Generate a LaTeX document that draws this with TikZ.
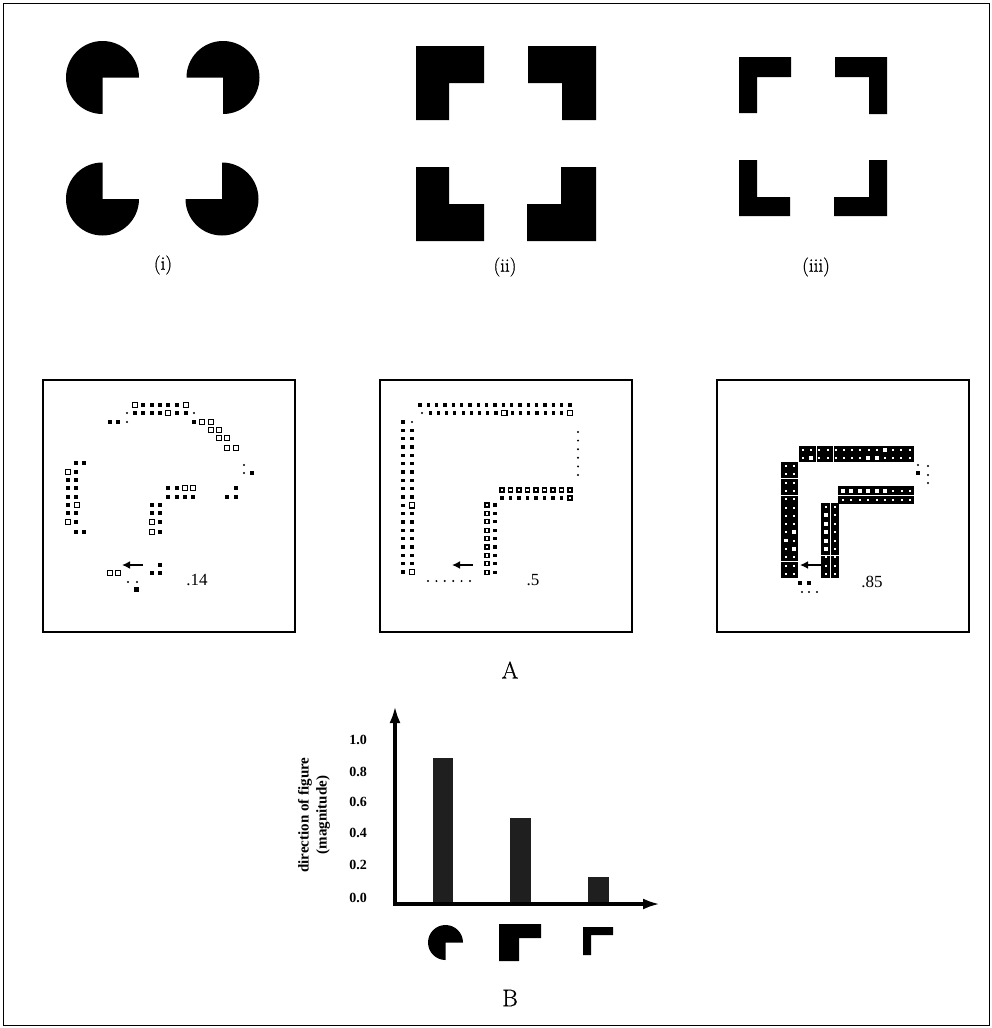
\documentclass[tikz,border=0pt]{standalone}
\usepackage{fontspec}
\newfontfamily\tms{Liberation Serif}
\newfontfamily\lmfat[FakeBold=0.7]{Latin Modern Roman}
\usetikzlibrary{arrows.meta}

% marks of the activity maps
\newcommand{\bxdot}[2]{\fill (#1-1.6,#2-1.6) rectangle (#1+1.6,#2+1.6);}
\newcommand{\bxpt}[2]{\fill (#1,#2) circle[radius=1.1];}
\newcommand{\bxsq}[2]{\filldraw[fill=white,line width=1.5pt] (#1-2.7,#2-2.7) rectangle (#1+2.7,#2+2.7);}
\newcommand{\bxsm}[2]{\filldraw[fill=white,line width=1.2pt] (#1-2,#2-2) rectangle (#1+2,#2+2);}
\newcommand{\bxhole}[3]{\fill[white] (#1-#3,#2-#3) rectangle (#1+#3,#2+#3);}

\begin{document}
\begin{tikzpicture}[x=1pt,y=-1pt,
  lbl/.style={font=\lmfat\fontsize{19}{22}\selectfont,inner sep=0pt},
  big/.style={font=\lmfat\fontsize{24}{28}\selectfont,inner sep=0pt},
  val/.style={font=\tms\fontsize{17}{20}\selectfont,inner sep=0pt},
  ticklbl/.style={font=\tms\bfseries\fontsize{14}{16}\selectfont,inner sep=0pt},
  panel/.style={line width=1.5pt},
  arr/.style={line width=2.6pt,-{Latex[length=8pt,width=8pt]}},
  axis/.style={line width=3.5pt,{Latex[length=17pt,width=11pt]}-{Latex[length=17pt,width=11pt]}}]
\useasboundingbox (0,0) rectangle (992,1028);
\draw[line width=1pt] (3,3) rectangle (989,1025);

% (i) pacmen
\fill (102.5,77.5) -- ++(0,36.5) arc[start angle=90,end angle=360,radius=36.5] -- cycle;
\fill (223,77.5) -- ++(-36.5,0) arc[start angle=180,end angle=450,radius=36.5] -- cycle;
\fill (102.5,199) -- ++(36.5,0) arc[start angle=0,end angle=270,radius=36.5] -- cycle;
\fill (222,199) -- ++(0,-36.5) arc[start angle=270,end angle=540,radius=36.5] -- cycle;
\node[lbl] (lbli) at (163,265) {(i)};

% (ii) thick corners
\fill (416,46) -- (484,46) -- (484,83) -- (449,83) -- (449,120) -- (416,120) -- cycle;
\fill (528,46) -- (596,46) -- (596,120) -- (562,120) -- (562,83) -- (528,83) -- cycle;
\fill (416,167) -- (449,167) -- (449,204) -- (484,204) -- (484,241) -- (416,241) -- cycle;
\fill (561,167) -- (596,167) -- (596,241) -- (527,241) -- (527,204) -- (561,204) -- cycle;
\node[lbl] (lblii) at (505,267) {(ii)};

% (iii) thin corners
\fill (739,57) -- (791,57) -- (791,77) -- (757,77) -- (757,113) -- (739,113) -- cycle;
\fill (835,57) -- (887,57) -- (887,114) -- (869,114) -- (869,77) -- (835,77) -- cycle;
\fill (739,160) -- (757,160) -- (757,197) -- (790,197) -- (790,216) -- (739,216) -- cycle;
\fill (869,160) -- (887,160) -- (887,216) -- (834,216) -- (834,197) -- (869,197) -- cycle;
\node[lbl] (lbliii) at (816,267) {(iii)};

% A: three maps
\draw[panel] (43,380) rectangle (295,632);
\draw[panel] (380,380) rectangle (632,632);
\draw[panel] (717,380) rectangle (969,632);

% map 1
\bxsq{135}{405} \foreach \x in {143,152,160,168,177} {\bxdot{\x}{405}} \bxsq{186}{405}
\bxpt{127}{413} \foreach \x in {135,143,152,160,177,186} {\bxdot{\x}{413}} \bxsq{168}{413} \bxpt{194}{413}
\bxdot{110}{422} \bxdot{118}{422} \bxpt{127}{422} \bxdot{194}{422} \bxsq{202}{422} \bxsq{211}{422}
\bxsq{211}{430} \bxsq{219}{430}
\bxsq{219}{438} \bxsq{227}{438}
\bxsq{227}{448} \bxsq{236}{448}
\bxpt{244}{465} \bxpt{244}{473} \bxdot{252}{473}
\bxdot{76}{463} \bxdot{84}{463}
\foreach \y in {480,488,497,513} {\bxdot{68}{\y} \bxdot{76}{\y}}
\bxsq{68}{472} \bxdot{76}{472}
\bxdot{68}{505} \bxsq{77}{505}
\bxsq{68}{522} \bxdot{76}{522}
\bxdot{76}{532} \bxdot{84}{532}
\bxdot{168}{488} \bxdot{177}{488} \bxsq{185}{488} \bxsq{193}{488}
\foreach \x in {168,177,185,193} {\bxdot{\x}{497}}
\foreach \y in {505,513,522,532} {\bxdot{152}{\y} \bxdot{160}{\y}}
\bxsq{152}{522} \bxsq{152}{532}
\bxdot{236}{488} \bxdot{227}{497} \bxdot{236}{497}
\bxsq{110}{573} \bxsq{118}{573}
\bxdot{160}{565} \bxdot{152}{573} \bxdot{160}{573}
\bxpt{128}{582} \bxpt{137}{582} \fill (134,587) rectangle (138.5,591.5);
\coordinate (m1a) at (143,565);
\coordinate (m1b) at (122,565);
\draw[arr] (m1a) -- (m1b);
\node[val] (v1) at (197,580) {.14};

% map 2
\foreach \k in {0,...,18} {\bxdot{420+8.33*\k}{405}}
\bxpt{422}{413}
\foreach \k in {1,...,18} {\bxdot{422+8.22*\k}{413}}
\bxsq{504.2}{413} \bxsq{570}{413}
\bxdot{403}{422} \bxpt{412}{422}
\foreach \k in {1,...,18} {\bxdot{403}{422+8.33*\k} \bxdot{412}{422+8.33*\k}}
\bxsq{412}{505.3} \bxsq{412}{572}
\foreach \k in {0,...,5} {\bxpt{578}{432+8.6*\k}}
\foreach \k in {0,...,8} {\bxsm{502+8.5*\k}{490} \bxdot{502+8.5*\k}{498}}
\bxsm{570}{498}
\foreach \k in {0,...,8} {\bxsm{487}{505+8.4*\k} \bxdot{495}{505+8.4*\k}}
\foreach \k in {0,...,5} {\bxpt{428+8.4*\k}{581}}
\coordinate (m2a) at (473,565);
\coordinate (m2b) at (452,565);
\draw[arr] (m2a) -- (m2b);
\node[val] (v2) at (533,580) {.5};

% map 3
\fill (799,446) rectangle (914,462);
\foreach \k in {0,...,13} {\bxhole{803+8.2*\k}{450}{1} \bxhole{803+8.2*\k}{458}{1}}
\bxhole{868}{458}{2} \bxhole{877}{458}{2} \bxhole{885}{450}{1.6} \bxhole{811}{458}{1.6}
\fill[white] (815.5,446) rectangle (816.5,462);
\fill[white] (832.5,446) rectangle (833.5,462);
\fill (781,462) rectangle (798,578);
\foreach \k in {0,...,13} {\bxhole{786}{466+8.3*\k}{1} \bxhole{793.5}{466+8.3*\k}{1}}
\bxhole{793.5}{532.4}{2} \bxhole{793.5}{549}{2} \bxhole{786}{540.7}{1.6}
\fill[white] (781,477.5) rectangle (798,478.5);
\fill[white] (781,494.5) rectangle (798,495.5);
\fill[white] (781,560.5) rectangle (798,561.5);
\fill (838,486) rectangle (914,504);
\fill[white] (838,494.6) rectangle (914,495.4);
\foreach \k in {0,...,8} {\bxhole{843+8.4*\k}{499.5}{1}}
\foreach \k in {0,...,5} {\bxhole{843+8.4*\k}{490.5}{2}}
\foreach \k in {6,...,8} {\bxhole{843+8.4*\k}{490.5}{1}}
\fill (821,503) rectangle (839,578);
\fill[white] (829.6,503) rectangle (830.4,578);
\foreach \k in {0,...,8} {\bxhole{834.5}{507+8.4*\k}{1}}
\foreach \k in {1,...,5} {\bxhole{825.5}{507+8.4*\k}{2}}
\foreach \k in {0,6,7,8} {\bxhole{825.5}{507+8.4*\k}{1}}
\fill[white] (821,554.5) rectangle (839,555.5);
\bxpt{918}{465} \bxpt{928}{466} \bxdot{918}{473} \bxpt{928}{475} \bxpt{928}{483}
\bxdot{800}{583} \bxdot{809}{583}
\bxpt{802}{592} \bxpt{809}{592} \bxpt{817}{592}
\coordinate (m3a) at (822,565);
\coordinate (m3b) at (800,565);
\draw[arr] (m3a) -- (m3b);
\node[val] (v3) at (872,582) {.85};

\node[big] (lblA) at (510,670) {A};

% B: bar chart
\coordinate (org) at (395,904);
\coordinate (ytip) at (395,706);
\coordinate (xtip) at (660,904);
\fill[black!88] (433,904) rectangle (453,758);
\fill[black!88] (510,904) rectangle (531,818);
\fill[black!88] (588,904) rectangle (609,877);
\draw[axis] (ytip) -- (org) -- (xtip);
\foreach \v/\yy [count=\i] in {0.0/898,0.2/865,0.4/833,0.6/802,0.8/772,1.0/740}
  \node[ticklbl,anchor=east] (tk\i) at (367,\yy) {\v};
\node[ticklbl,rotate=90,align=center,font=\tms\bfseries\fontsize{15}{18}\selectfont] (ylab) at (314,815) {direction of figure\\(magnitude)};
\fill (445.5,942.5) -- ++(0,17.5) arc[start angle=90,end angle=360,radius=17.5] -- cycle;
\fill (499,924) -- (541,924) -- (541,938) -- (519,938) -- (519,961) -- (499,961) -- cycle;
\fill (583,927) -- (613,927) -- (613,935) -- (591,935) -- (591,955) -- (583,955) -- cycle;
\node[big] (lblB) at (510,998) {B};
\end{tikzpicture}
\end{document}
